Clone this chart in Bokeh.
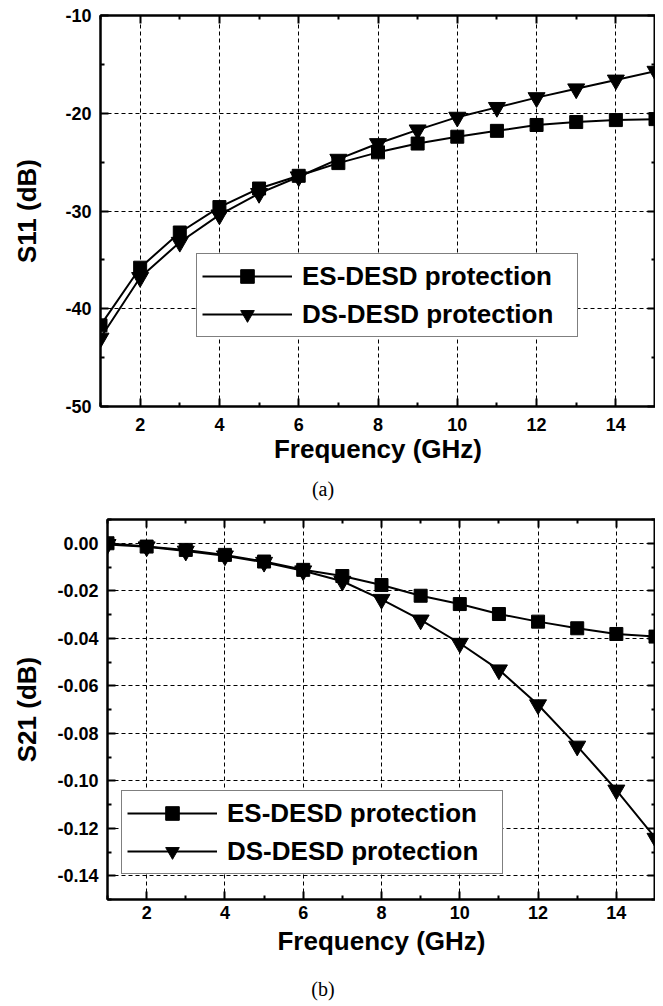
from bokeh.plotting import figure
from bokeh.models import (FixedTicker, LinearAxis, Legend, LegendItem, Div, Range1d,
                          NumeralTickFormatter, CustomLabelingPolicy)
from bokeh.layouts import column
from bokeh.embed import file_html
from bokeh.resources import INLINE

# ---------------- data ----------------
freq = [1, 2, 3, 4, 5, 6, 7, 8, 9, 10, 11, 12, 13, 14, 15]
s11_es = [-41.7, -35.8, -32.2, -29.6, -27.7, -26.4, -25.1, -24.0, -23.1, -22.4,
          -21.8, -21.2, -20.9, -20.7, -20.6]
s11_ds = [-43.0, -36.8, -33.2, -30.4, -28.2, -26.5, -24.7, -23.1, -21.7, -20.4,
          -19.4, -18.4, -17.5, -16.6, -15.7]
s21_es = [0.000, -0.0014, -0.0028, -0.0049, -0.0077, -0.0112, -0.0138, -0.0176,
          -0.0221, -0.0256, -0.0298, -0.0330, -0.0358, -0.0382, -0.0393]
s21_ds = [-0.0005, -0.0015, -0.0033, -0.0053, -0.0080, -0.0116, -0.0160, -0.0236,
          -0.0323, -0.0421, -0.0533, -0.0680, -0.0854, -0.1039, -0.1242]

series_names = ["ES-DESD protection", "DS-DESD protection"]
x_ticks = [2, 4, 6, 8, 10, 12, 14]
x_minor = [1, 3, 5, 7, 9, 11, 13, 15]
s11_ticks = [-50, -40, -30, -20, -10]
s11_minor = [-45, -35, -25, -15]
s21_ticks = [-0.14, -0.12, -0.10, -0.08, -0.06, -0.04, -0.02, 0.0]
s21_minor = [-0.15, -0.13, -0.11, -0.09, -0.07, -0.05, -0.03, -0.01, 0.01]

FONT = "Liberation Sans"


def style_axis(ax, hide_labels=False):
    ax.axis_line_width = 2
    ax.axis_line_color = "black"
    ax.major_tick_in = 8
    ax.major_tick_out = 0
    ax.minor_tick_in = 4
    ax.minor_tick_out = 0
    ax.major_tick_line_width = 2
    ax.minor_tick_line_width = 2
    ax.major_tick_line_color = "black"
    ax.minor_tick_line_color = "black"
    ax.major_label_text_font = FONT
    ax.major_label_text_font_style = "bold"
    ax.major_label_text_font_size = "18px"
    ax.major_label_text_color = "black"
    ax.axis_label_text_font = FONT
    ax.axis_label_text_font_style = "bold"
    ax.axis_label_text_font_size = "26px"
    ax.axis_label_text_color = "black"
    if hide_labels:
        ax.major_label_policy = CustomLabelingPolicy(code="return []")
        ax.major_label_text_font_size = "0px"
        ax.major_label_standoff = 0


def make_panel(yvals_es, yvals_ds, yticks, yminor, yr, ylabel, fmt,
               width, height, left, top, bottom, leg_loc, ylab_standoff,
               xtick_standoff, xlab_standoff, margin):
    p = figure(width=width, height=height, output_backend="svg", toolbar_location=None,
               x_range=Range1d(1, 15), y_range=Range1d(*yr),
               min_border_left=left, min_border_right=0,
               min_border_top=top, min_border_bottom=bottom, margin=margin)
    p.background_fill_color = "white"
    p.border_fill_color = "white"
    p.outline_line_color = "black"
    p.outline_line_width = 2

    xt = FixedTicker(ticks=x_ticks, minor_ticks=x_minor)
    yt = FixedTicker(ticks=yticks, minor_ticks=yminor)
    p.xaxis.ticker = xt
    p.yaxis.ticker = yt
    p.xaxis.axis_label = "Frequency (GHz)"
    p.yaxis.axis_label = ylabel
    p.yaxis.formatter = NumeralTickFormatter(format=fmt)
    style_axis(p.xaxis[0])
    style_axis(p.yaxis[0])
    p.xaxis.major_label_standoff = xtick_standoff
    p.yaxis.major_label_standoff = 9
    p.yaxis.axis_label_standoff = ylab_standoff
    p.xaxis.axis_label_standoff = xlab_standoff

    top_ax = LinearAxis(ticker=xt)
    right_ax = LinearAxis(ticker=yt)
    style_axis(top_ax, hide_labels=True)
    style_axis(right_ax, hide_labels=True)
    p.add_layout(top_ax, "above")
    p.add_layout(right_ax, "right")

    for g in (p.xgrid, p.ygrid):
        g.grid_line_color = "black"
        g.grid_line_dash = "4 3"
        g.grid_line_width = 1
    p.xgrid.ticker = xt
    p.ygrid.ticker = yt

    l1 = p.line(freq, yvals_es, line_color="black", line_width=2)
    m1 = p.scatter(freq, yvals_es, marker="square", size=13, fill_color="black",
                   line_color="black")
    l2 = p.line(freq, yvals_ds, line_color="black", line_width=2)
    m2 = p.scatter(freq, yvals_ds, marker="inverted_triangle", size=17,
                   fill_color="black", line_color="black")

    legend = Legend(items=[LegendItem(label=series_names[0], renderers=[l1, m1]),
                           LegendItem(label=series_names[1], renderers=[l2, m2])],
                    location=leg_loc)
    legend.label_text_font = FONT
    legend.label_text_font_style = "bold"
    legend.label_text_font_size = "26px"
    legend.label_text_color = "black"
    legend.glyph_width = 90
    legend.glyph_height = 34
    legend.label_height = 34
    legend.label_width = 270
    legend.label_standoff = 10
    legend.spacing = 4
    legend.padding = 5
    legend.margin = 0
    legend.border_line_color = "black"
    legend.border_line_width = 1.5
    legend.background_fill_color = "white"
    legend.background_fill_alpha = 1.0
    p.add_layout(legend, "center")
    return p


p1 = make_panel(s11_es, s11_ds, s11_ticks, s11_minor, (-50, -10), "S11 (dB)", "0",
                width=655, height=470, left=100, top=15, bottom=64, leg_loc=(96, 69),
                ylab_standoff=20, xtick_standoff=11, xlab_standoff=0,
                margin=(0, 0, 0, 0))
p2 = make_panel(s21_es, s21_ds, s21_ticks, s21_minor, (-0.15, 0.01), "S21 (dB)", "0.00",
                width=648, height=454, left=100, top=11, bottom=63, leg_loc=(14, 25),
                ylab_standoff=12, xtick_standoff=6, xlab_standoff=4,
                margin=(0, 0, 0, 7))

cap_style = {"font-family": "Liberation Serif", "font-size": "20px",
             "text-align": "center", "color": "black"}
div_a = Div(text="(a)", width=636, height=28, styles=dict(cap_style))
div_b = Div(text="(b)", width=636, height=23,
            styles=dict(cap_style, **{"padding-top": "8px"}))

layout = column(p1, div_a, p2, div_b, spacing=0)

open("out.html", "w").write(file_html(layout, INLINE))
